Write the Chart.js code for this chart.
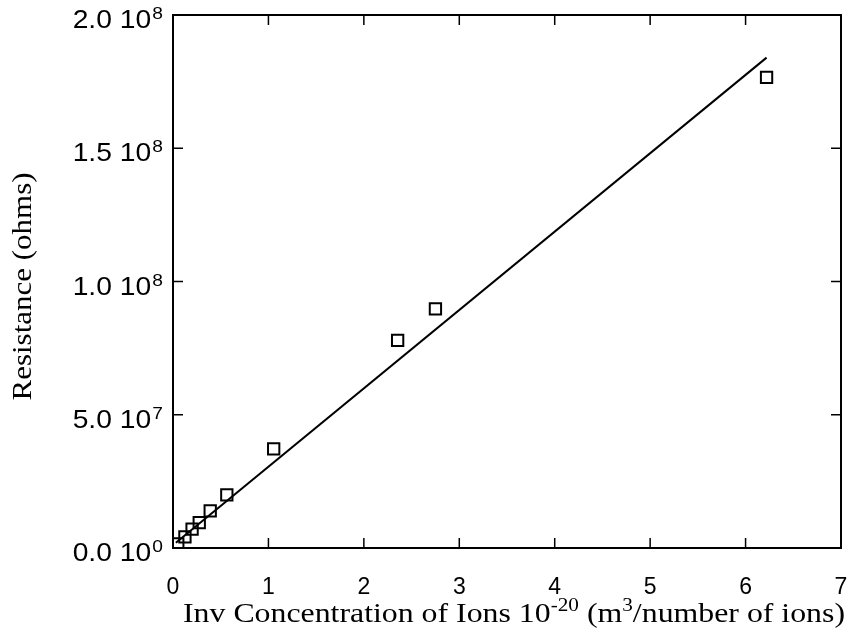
<!DOCTYPE html>
<html>
<head>
<meta charset="utf-8">
<script src="https://cdn.jsdelivr.net/npm/chart.js@4/dist/chart.umd.min.js"></script>
<style>
  html, body { margin: 0; padding: 0; background: #fff; }
  #wrap { width: 851px; height: 642px; }
</style>
</head>
<body>
<div id="wrap"><canvas id="chart" width="851" height="642"></canvas></div>
<script>
// measured points (open squares)
const invConc = [0.05, 0.125, 0.2, 0.275, 0.39, 0.564, 1.055, 2.354, 2.75, 6.22];
const resistance = [1.5e6, 4.2e6, 7.1e6, 9.5e6, 1.39e7, 1.99e7, 3.72e7, 7.79e7, 8.97e7, 1.766e8];

// fitted line end points
const fitX = [0.03, 6.22];
const fitY = [2.0e6, 1.84e8];

const xTicks = [0, 1, 2, 3, 4, 5, 6, 7];
const yTickValues = [0, 5e7, 1e8, 1.5e8, 2e8];
const yTickMantissa = ['0.0', '5.0', '1.0', '1.5', '2.0'];
const yTickExponent = ['0', '7', '8', '8', '8'];

const yTitle = 'Resistance (ohms)';
// x title pieces: [text, superscript?]
const xTitleParts = [
    ['Inv Concentration of Ions 10', false],
    ['-20', true],
    [' (m', false],
    ['3', true],
    ['/number of ions)', false]
];

const SANS = '"Liberation Sans", Arial, sans-serif';
const SERIF = '"Liberation Serif", "Times New Roman", serif';

// draws a run of text with superscripts, squeezed/stretched to a given width
function drawRich(ctx, parts, size, supSize, targetW) {
    const widths = parts.map(p => {
        ctx.font = (p[1] ? supSize : size) + 'px ' + SERIF;
        return ctx.measureText(p[0]).width;
    });
    const natural = widths.reduce((a, b) => a + b, 0);
    const k = targetW / natural;
    ctx.save();
    ctx.scale(k, 1);
    let x = -natural / 2;
    parts.forEach((p, i) => {
        ctx.font = (p[1] ? supSize : size) + 'px ' + SERIF;
        ctx.fillText(p[0], x, p[1] ? -size * 0.42 : 0);
        x += widths[i];
    });
    ctx.restore();
}

const frameTicks = {
    id: 'frameTicks',
    afterDraw(chart) {
        const ctx = chart.ctx;
        const a = chart.chartArea;
        const xs = chart.scales.x, ys = chart.scales.y;
        const len = 10;
        ctx.save();
        ctx.strokeStyle = '#000';
        ctx.lineWidth = 1.5;
        xTicks.forEach(v => {
            const px = xs.getPixelForValue(v);
            ctx.beginPath();
            ctx.moveTo(px, a.bottom); ctx.lineTo(px, a.bottom - len);
            ctx.moveTo(px, a.top); ctx.lineTo(px, a.top + len);
            ctx.stroke();
        });
        yTickValues.forEach(v => {
            const py = ys.getPixelForValue(v);
            ctx.beginPath();
            ctx.moveTo(a.left, py); ctx.lineTo(a.left + len, py);
            ctx.moveTo(a.right, py); ctx.lineTo(a.right - len, py);
            ctx.stroke();
        });
        ctx.lineWidth = 2;
        ctx.strokeRect(a.left, a.top, a.right - a.left, a.bottom - a.top);

        // y tick labels: mantissa + 10 with raised exponent
        ctx.fillStyle = '#000';
        ctx.textBaseline = 'alphabetic';
        yTickValues.forEach((v, i) => {
            const py = ys.getPixelForValue(v) + 4;
            ctx.save();
            ctx.translate(a.left - 10, py + 9);
            ctx.scale(1.13, 1);
            ctx.font = '17px ' + SANS;
            ctx.textAlign = 'right';
            ctx.fillText(yTickExponent[i], 0, -9);
            const ew = ctx.measureText(yTickExponent[i]).width;
            ctx.font = '25px ' + SANS;
            ctx.fillText(yTickMantissa[i] + ' 10', -ew - 1, 0);
            ctx.restore();
        });

        // y title
        ctx.save();
        ctx.translate(31, (a.top + a.bottom) / 2 + 5);
        ctx.rotate(-Math.PI / 2);
        ctx.textAlign = 'left';
        drawRich(ctx, [[yTitle, false]], 27, 18, 228);
        ctx.restore();

        // x title
        ctx.save();
        ctx.translate(514, 622);
        ctx.textAlign = 'left';
        drawRich(ctx, xTitleParts, 27, 18, 662);
        ctx.restore();
        ctx.restore();
    }
};

const ctx = document.getElementById('chart').getContext('2d');
new Chart(ctx, {
    type: 'scatter',
    data: {
        datasets: [{
            label: 'data',
            data: invConc.map((x, i) => ({ x: x, y: resistance[i] })),
            pointStyle: 'rect',
            pointRadius: 8,
            pointBorderWidth: 2,
            borderColor: '#000',
            backgroundColor: 'rgba(0,0,0,0)',
            showLine: false
        }, {
            label: 'fit',
            data: fitX.map((x, i) => ({ x: x, y: fitY[i] })),
            showLine: true,
            pointRadius: 0,
            borderColor: '#000',
            borderWidth: 2,
            fill: false
        }]
    },
    options: {
        responsive: false,
        animation: false,
        layout: { padding: { top: 15, right: 9, left: 0, bottom: 0 } },
        plugins: {
            legend: { display: false },
            tooltip: { enabled: false }
        },
        scales: {
            x: {
                type: 'linear',
                min: 0, max: 7,
                grid: { display: false, drawTicks: false },
                border: { display: false },
                ticks: {
                    stepSize: 1,
                    color: '#000',
                    padding: 26,
                    font: { family: 'Liberation Sans', size: 23 }
                },
                afterFit(scale) {
                    scale.height = 94;
                    scale.paddingLeft = 0;
                    scale.paddingRight = 0;
                }
            },
            y: {
                type: 'linear',
                min: 0, max: 2e8,
                grid: { display: false, drawTicks: false },
                border: { display: false },
                afterBuildTicks(scale) {
                    scale.ticks = yTickValues.map(v => ({ value: v }));
                },
                ticks: { display: false },
                afterFit(scale) { scale.width = 173; }
            }
        }
    },
    plugins: [frameTicks]
});
</script>
</body>
</html>
